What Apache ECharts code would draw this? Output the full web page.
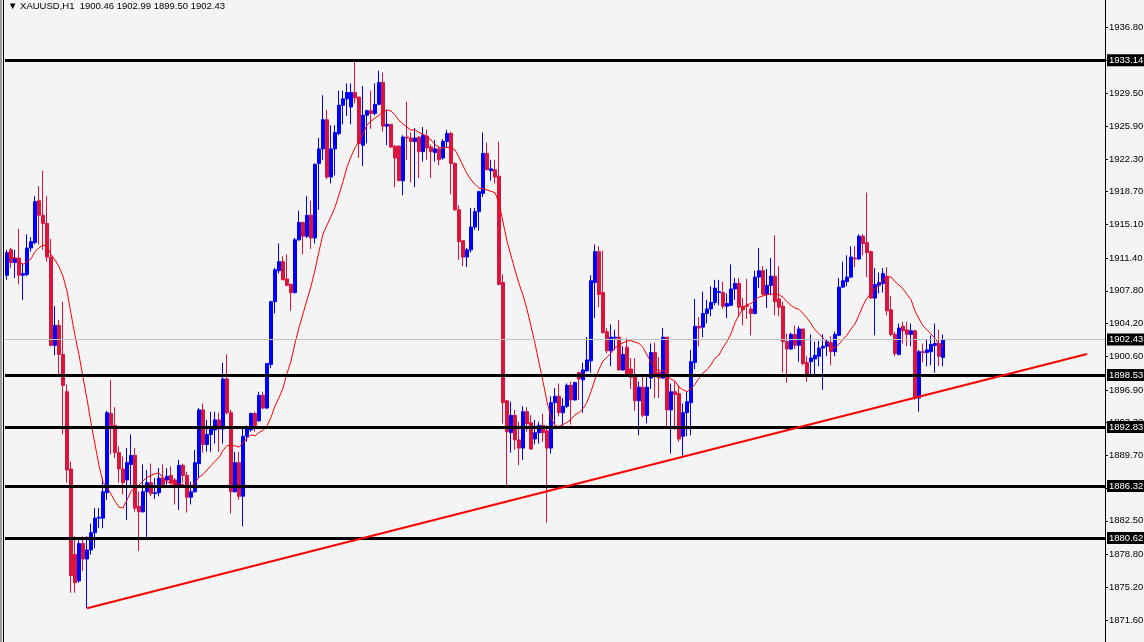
<!DOCTYPE html>
<html>
<head>
<meta charset="utf-8">
<script src="https://cdn.jsdelivr.net/npm/echarts@6/dist/echarts.min.js"></script>
<style>
  html, body { margin: 0; padding: 0; background: #f4f4f4; }
  #chart { width: 1144px; height: 642px; }
</style>
</head>
<body>
<div id="chart"></div>
<script>
// XAUUSD H1 candles
const opens = [
  1909.5,1912.3,1910.9,1911.4,1909.5,1909.6,1912.5,1913.1,1917.7,1916.1,
  1915.2,1911.5,1901.8,1904.0,1900.8,1896.7,1888.2,1878.8,1875.9,1880.0,
  1878.3,1879.3,1881.2,1882.8,1882.8,1885.6,1894.3,1893.0,1890.0,1888.2,
  1887.0,1888.7,1889.7,1884.1,1883.5,1885.7,1886.7,1885.5,1885.6,1887.2,
  1887.0,1887.5,1887.0,1886.3,1888.6,1887.5,1885.1,1885.7,1888.8,1894.7,
  1890.9,1892.0,1892.5,1893.6,1892.6,1898.1,1894.4,1885.7,1888.9,1885.2,
  1891.8,1892.5,1894.3,1893.5,1896.3,1894.9,1899.7,1906.6,1910.0,1911.0,
  1909.1,1908.5,1907.6,1913.4,1915.3,1913.8,1916.1,1913.6,1921.8,1923.4,
  1926.6,1920.3,1923.4,1925.1,1928.2,1928.9,1928.0,1929.6,1929.1,1923.8,
  1927.1,1927.6,1927.3,1928.3,1930.7,1925.9,1926.1,1923.7,1923.7,1919.9,
  1924.7,1924.6,1924.2,1924.7,1923.1,1924.8,1923.6,1923.0,1923.4,1922.4,
  1924.2,1925.1,1921.8,1916.7,1913.3,1911.5,1912.3,1914.8,1916.5,1918.5,
  1922.9,1921.0,1921.1,1920.4,1908.7,1895.7,1892.2,1894.1,1891.4,1890.5,
  1894.5,1893.3,1891.5,1892.2,1893.0,1892.4,1890.5,1895.5,1896.2,1894.4,
  1895.1,1897.4,1895.8,1898.8,1898.0,1899.0,1900.1,1908.7,1912.1,1907.6,
  1903.3,1901.2,1902.6,1902.7,1899.1,1901.6,1899.2,1898.3,1895.7,1897.2,
  1894.1,1898.2,1901.0,1898.8,1898.2,1902.7,1894.7,1896.7,1896.5,1891.8,
  1894.4,1895.5,1899.9,1903.9,1903.8,1905.3,1905.8,1906.5,1907.6,1907.6,
  1906.1,1906.2,1908.0,1908.6,1906.1,1906.2,1905.8,1905.3,1909.3,1910.0,
  1907.4,1908.4,1909.4,1906.9,1906.1,1902.2,1901.4,1903.0,1901.8,1903.6,
  1899.9,1900.0,1900.3,1900.6,1901.5,1901.7,1902.1,1901.1,1902.9,1908.2,
  1908.8,1909.3,1911.4,1911.3,1913.8,1913.1,1912.1,1907.0,1908.4,1908.6,
  1909.4,1905.7,1903.0,1900.8,1903.9,1903.5,1903.0,1903.4,1896.0,1901.1,
  1901.0,1901.1,1901.8,1902.0,1900.46
];
const closes = [
  1912.0,1910.9,1911.4,1909.5,1909.7,1912.5,1913.2,1917.6,1916.1,1915.2,
  1911.5,1901.8,1904.0,1900.8,1897.4,1888.1,1876.5,1875.7,1880.0,1878.3,
  1879.3,1881.2,1882.8,1882.9,1885.7,1894.4,1893.0,1890.0,1888.2,1886.7,
  1888.9,1889.7,1883.9,1883.5,1885.7,1886.7,1885.5,1885.6,1887.2,1886.5,
  1887.4,1886.7,1886.3,1888.6,1887.5,1885.1,1885.7,1888.9,1894.7,1890.9,
  1892.0,1892.6,1893.6,1892.6,1898.1,1894.4,1885.7,1888.9,1885.2,1891.8,
  1892.7,1894.3,1893.0,1896.3,1894.9,1899.8,1906.6,1910.1,1911.0,1909.0,
  1908.4,1907.6,1913.4,1915.3,1913.8,1916.1,1913.6,1921.7,1923.4,1926.6,
  1920.3,1923.4,1925.2,1928.2,1928.9,1929.6,1929.6,1929.0,1924.0,1927.1,
  1927.6,1927.3,1928.3,1930.7,1925.9,1926.1,1923.6,1922.4,1919.9,1924.7,
  1924.6,1924.2,1924.6,1923.1,1924.9,1923.5,1923.1,1923.4,1922.2,1924.2,
  1925.1,1921.8,1916.7,1913.2,1911.5,1912.3,1914.8,1916.5,1918.7,1922.9,
  1921.1,1921.2,1920.3,1908.5,1895.5,1892.3,1894.1,1891.4,1890.5,1894.5,
  1893.2,1890.4,1892.2,1893.0,1892.2,1890.5,1895.5,1896.2,1894.4,1895.1,
  1897.4,1895.8,1897.7,1898.1,1899.1,1900.2,1908.9,1912.1,1907.4,1903.2,
  1901.2,1902.7,1902.7,1899.1,1900.8,1898.7,1898.3,1895.7,1897.2,1894.1,
  1897.2,1901.0,1898.6,1898.2,1902.7,1894.7,1896.7,1896.4,1891.5,1894.4,
  1895.6,1900.0,1903.9,1903.7,1905.3,1905.8,1906.5,1908.1,1907.7,1906.1,
  1906.4,1908.0,1908.6,1906.0,1905.7,1906.1,1905.3,1909.3,1910.0,1907.4,
  1908.4,1909.4,1906.6,1906.0,1902.2,1901.4,1903.0,1901.8,1903.6,1899.8,
  1898.5,1900.4,1900.7,1901.5,1901.7,1902.2,1901.1,1903.0,1908.2,1908.9,
  1909.3,1911.5,1911.3,1913.8,1913.0,1912.0,1907.0,1908.5,1908.7,1909.7,
  1905.6,1903.0,1900.9,1903.7,1903.4,1903.0,1903.4,1896.0,1901.1,1901.0,
  1901.3,1901.9,1902.0,1900.6,1902.43
];
const highs = [
  1912.3,1912.5,1912.3,1914.6,1910.8,1914.0,1913.7,1918.2,1919.3,1921.0,
  1918.2,1913.5,1906.1,1904.6,1906.6,1897.5,1889.0,1880.8,1880.6,1880.8,
  1880.8,1882.2,1883.9,1883.9,1887.2,1894.6,1898.0,1895.0,1890.7,1889.6,
  1890.5,1892.0,1890.5,1885.7,1888.7,1888.1,1888.8,1887.2,1888.3,1888.7,
  1888.3,1888.5,1887.2,1889.2,1888.8,1887.9,1886.8,1890.3,1894.9,1895.4,
  1893.6,1894.5,1894.5,1894.4,1899.9,1900.8,1894.7,1890.1,1890.1,1892.7,
  1893.0,1894.4,1894.5,1896.7,1896.7,1899.8,1906.7,1910.3,1913.0,1911.6,
  1911.8,1908.6,1913.6,1916.6,1915.4,1918.2,1917.7,1921.8,1924.6,1929.3,
  1927.7,1926.0,1926.0,1929.8,1929.8,1930.6,1930.6,1933.2,1929.1,1930.3,
  1927.7,1929.8,1930.6,1932.0,1931.8,1927.7,1926.1,1923.8,1923.8,1924.9,
  1928.6,1925.2,1925.7,1924.8,1925.8,1925.5,1923.9,1924.4,1923.6,1924.5,
  1925.5,1925.3,1921.9,1917.2,1913.3,1912.5,1916.9,1916.9,1918.8,1925.2,
  1924.1,1922.2,1922.2,1924.2,1909.6,1895.8,1895.6,1894.7,1893.4,1895.1,
  1895.0,1894.1,1893.6,1893.4,1894.3,1893.0,1896.2,1897.1,1897.6,1896.0,
  1897.6,1897.8,1897.8,1898.9,1899.9,1902.7,1909.5,1912.9,1912.7,1912.2,
  1903.7,1904.1,1903.5,1904.6,1901.7,1902.6,1900.4,1900.4,1897.8,1898.4,
  1898.4,1902.0,1902.1,1900.5,1903.7,1902.7,1897.6,1897.8,1897.4,1895.4,
  1896.7,1901.3,1906.9,1904.9,1907.7,1906.8,1908.3,1909.0,1909.0,1908.8,
  1907.5,1910.7,1909.2,1909.2,1907.0,1909.1,1906.1,1910.0,1912.5,1910.5,
  1910.2,1911.4,1913.9,1910.5,1906.6,1903.1,1903.2,1904.0,1903.9,1903.6,
  1900.6,1903.0,1902.2,1902.3,1903.0,1902.4,1902.8,1903.3,1909.2,1911.0,
  1911.7,1912.7,1912.7,1914.0,1914.0,1918.6,1912.2,1910.3,1909.8,1910.3,
  1910.4,1907.2,1903.3,1904.2,1904.4,1904.4,1904.2,1903.5,1901.3,1902.0,
  1902.4,1902.9,1904.2,1903.5,1902.99
];
const lows = [
  1909.0,1910.3,1909.2,1908.5,1906.8,1909.4,1912.1,1912.9,1912.9,1912.3,
  1911.0,1901.7,1900.7,1898.4,1892.0,1886.7,1874.6,1874.6,1875.7,1877.0,
  1872.9,1878.8,1879.5,1881.7,1881.7,1884.8,1889.8,1889.4,1886.7,1885.4,
  1882.6,1886.1,1883.5,1879.2,1883.4,1880.7,1885.2,1884.9,1885.2,1886.3,
  1886.5,1886.5,1884.3,1883.7,1886.7,1883.4,1884.3,1885.6,1887.2,1890.0,
  1890.1,1890.1,1891.0,1890.1,1891.0,1894.2,1883.3,1885.6,1884.8,1881.9,
  1891.2,1892.3,1892.3,1893.4,1894.8,1894.8,1899.3,1905.3,1909.7,1909.0,
  1908.3,1905.6,1907.5,1913.3,1911.8,1913.6,1912.4,1913.0,1916.7,1922.2,
  1920.1,1919.6,1920.5,1924.9,1926.1,1927.0,1926.1,1928.4,1922.4,1921.5,
  1924.0,1925.6,1927.1,1928.2,1925.3,1923.8,1923.5,1919.2,1919.9,1918.3,
  1922.2,1919.7,1919.2,1920.2,1922.0,1922.2,1920.2,1922.0,1921.6,1922.2,
  1923.6,1918.4,1916.6,1911.2,1910.5,1910.4,1912.0,1914.5,1914.4,1918.1,
  1921.1,1919.9,1919.6,1908.4,1893.2,1886.4,1890.0,1890.3,1888.6,1889.2,
  1892.3,1890.3,1890.9,1891.0,1891.2,1882.3,1889.9,1893.0,1894.0,1892.6,
  1894.9,1893.1,1895.7,1895.8,1894.4,1898.9,1898.8,1904.8,1906.0,1903.1,
  1900.9,1899.5,1901.3,1899.0,1899.0,1898.4,1897.0,1894.6,1891.9,1893.9,
  1893.2,1897.0,1896.0,1896.0,1898.1,1892.9,1889.9,1892.5,1891.2,1889.7,
  1891.8,1891.9,1899.2,1901.7,1902.7,1904.2,1905.0,1906.2,1906.2,1905.8,
  1904.8,1906.1,1906.8,1904.9,1904.0,1904.7,1902.9,1905.2,1908.1,1907.3,
  1905.9,1907.3,1905.1,1905.0,1898.8,1897.7,1901.3,1901.4,1900.0,1899.6,
  1897.8,1898.5,1898.5,1899.5,1896.9,1900.6,1899.6,1900.6,1902.8,1908.1,
  1908.3,1909.2,1910.4,1911.2,1911.7,1909.3,1906.9,1902.9,1907.5,1907.6,
  1905.1,1902.8,1900.6,1900.7,1902.0,1901.7,1901.7,1895.8,1894.5,1899.9,
  1899.5,1899.6,1898.8,1899.5,1899.50
];
const priceTicks = [1871.6,1875.2,1878.8,1882.5,1886.1,1889.7,1893.3,1896.9,1900.6,1904.2,1907.8,1911.4,1915.1,1918.7,1922.3,1925.9,1929.5,1933.1,1936.8];
const levels = [1933.14, 1898.53, 1892.83, 1886.32, 1880.62];
const lastPrice = 1902.43;
const trendFrom = [20, 1872.9];
const trendTo = [270, 1900.85];
const maPeriod = 14;
const totalSlots = 275;

const categories = [];
for (let i = 0; i < totalSlots; i++) categories.push(String(i));

const candles = opens.map((o, i) => [o, closes[i], lows[i], highs[i]]);

// simple moving average of closes (expanding at the start)
const ma = closes.map((c, i) => {
  const from = Math.max(0, i - maPeriod + 1);
  const part = closes.slice(from, i + 1);
  return +(part.reduce((a, b) => a + b, 0) / part.length).toFixed(2);
});

const fmt = v => v.toFixed(2);
const font = 'Liberation Sans';

const chart = echarts.init(document.getElementById('chart'));
chart.setOption({
  animation: false,
  backgroundColor: '#f4f4f4',
  grid: { left: 5, right: 39, top: 0, bottom: 0, outerBoundsMode: 'none', containLabel: false },
  xAxis: {
    type: 'category',
    data: categories,
    boundaryGap: true,
    axisLine: { show: false },
    axisTick: { show: false },
    axisLabel: { show: false },
    splitLine: { show: false }
  },
  yAxis: {
    type: 'value',
    position: 'right',
    min: 1869.18,
    max: 1939.77,
    splitLine: { show: false },
    axisLine: { show: true, lineStyle: { color: '#000', width: 1 } },
    axisTick: { show: true, length: 3, lineStyle: { color: '#000' }, customValues: priceTicks },
    axisLabel: {
      color: '#000', fontFamily: font, fontSize: 9.5, margin: 4,
      customValues: priceTicks, formatter: v => fmt(v)
    }
  },
  graphic: [
    { type: 'rect', left: 3, top: 0, shape: { width: 1, height: 642 }, style: { fill: '#000' } },
    { type: 'rect', left: 0, top: 0, shape: { width: 2, height: 642 }, style: { fill: '#9a9a9a' } },
    {
      type: 'text', left: 8, top: 1,
      style: { text: '\u25BC XAUUSD,H1  1900.46 1902.99 1899.50 1902.43', fill: '#000', fontFamily: font, fontSize: 9.5 }
    }
  ],
  series: [
    {
      type: 'candlestick',
      data: candles,
      barWidth: 3,
      itemStyle: { color: '#0000ff', color0: '#dc143c', borderColor: '#0000ff', borderColor0: '#dc143c', borderWidth: 1 },
      markLine: {
        symbol: 'none',
        silent: true,
        animation: false,
        data: [
          ...levels.map(v => ({
            yAxis: v,
            lineStyle: { color: '#000', width: 3, type: 'solid' },
            label: { position: 'end', distance: 2, formatter: fmt(v), color: '#fff', backgroundColor: '#000', padding: [1, 2], fontFamily: font, fontSize: 9.5 }
          })),
          {
            yAxis: lastPrice,
            lineStyle: { color: '#c0c0c0', width: 1, type: 'solid' },
            label: { position: 'end', distance: 2, formatter: fmt(lastPrice), color: '#fff', backgroundColor: '#000', padding: [1, 2], fontFamily: font, fontSize: 9.5 }
          },
          [
            { coord: trendFrom, lineStyle: { color: '#ff0000', width: 2, type: 'solid' }, label: { show: false } },
            { coord: trendTo }
          ]
        ]
      }
    },
    {
      type: 'line',
      data: ma,
      symbol: 'none',
      lineStyle: { color: '#ff0000', width: 1 },
      z: 3
    }
  ]
});
</script>
</body>
</html>
